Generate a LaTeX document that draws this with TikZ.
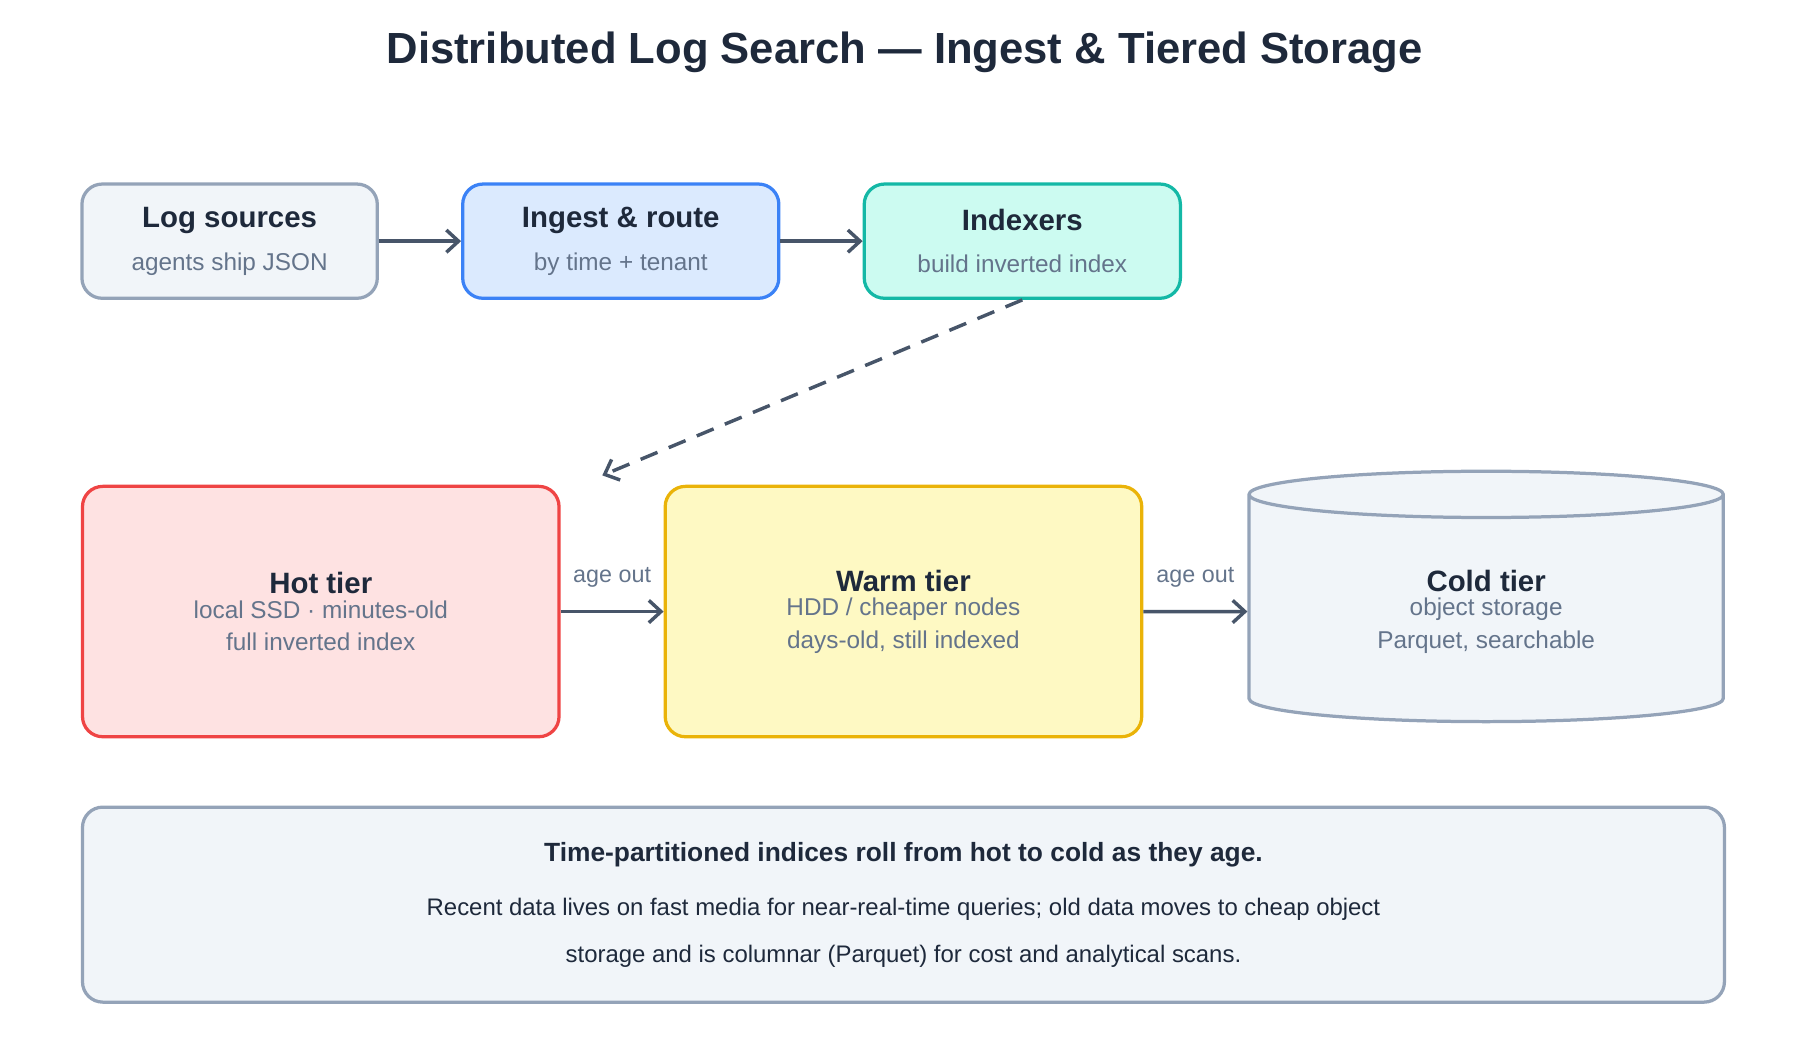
\documentclass[tikz,border=0pt]{standalone}
\usepackage{fontspec}
\setmainfont{Liberation Sans}
\usetikzlibrary{positioning, arrows.meta, shapes.geometric}
\definecolor{ink}{HTML}{1E293B}
\definecolor{subink}{HTML}{64748B}
\definecolor{wire}{HTML}{475569}
\definecolor{slatefill}{HTML}{F1F5F9}
\definecolor{slateline}{HTML}{94A3B8}
\definecolor{bluefill}{HTML}{DBEAFE}
\definecolor{blueline}{HTML}{3B82F6}
\definecolor{tealfill}{HTML}{CCFBF1}
\definecolor{tealline}{HTML}{14B8A6}
\definecolor{redfill}{HTML}{FEE2E2}
\definecolor{redline}{HTML}{EF4444}
\definecolor{yellowfill}{HTML}{FEF9C3}
\definecolor{yellowline}{HTML}{EAB308}
\tikzset{
  box/.style={draw, line width=1.6pt, rounded corners=10pt, align=center, text=ink},
  small/.style={box, minimum width=5.12cm, minimum height=1.98cm},
  tier/.style={box, minimum width=8.26cm, minimum height=4.34cm},
  flow/.style={draw=wire, line width=1.7pt, -{Straight Barb[length=6pt,width=11pt]}},
  tag/.style={text=subink, font=\fontsize{11.5}{14}\selectfont},
}
\newcommand{\heading}[1]{{\fontsize{14.5}{18}\selectfont\bfseries #1}}
\newcommand{\subline}[1]{{\color{subink}\fontsize{12}{15}\selectfont #1}}
\begin{document}
\begin{tikzpicture}
\useasboundingbox (0,0) rectangle (31.2,-18);
\node (title) at (15.68,-0.9) {\fontsize{21.5}{26}\selectfont\bfseries\color{ink}Distributed Log Search — Ingest \& Tiered Storage};

\node[small, fill=slatefill, draw=slateline] (src) at (3.98,-4.18)
  {\heading{Log sources}\\[9pt]\subline{agents ship JSON}};
\node[small, fill=bluefill, draw=blueline, minimum width=5.48cm] (ingest) at (10.76,-4.18)
  {\heading{Ingest \& route}\\[9pt]\subline{by time + tenant}};
\node[small, fill=tealfill, draw=tealline, minimum width=5.48cm] (idx) at (17.72,-4.18)
  {\heading{Indexers}\\[9pt]\subline{build inverted index}};

\node[tier, fill=redfill, draw=redline] (hot) at (5.56,-10.6)
  {\heading{Hot tier}\\\subline{local SSD · minutes-old}\\[4pt]\subline{full inverted index}};
\node[tier, fill=yellowfill, draw=yellowline] (warm) at (15.66,-10.6)
  {\heading{Warm tier}\\\subline{HDD / cheaper nodes}\\[4pt]\subline{days-old, still indexed}};
\node[cylinder, shape border rotate=90, draw=slateline, fill=slatefill, line width=1.6pt,
  minimum width=8.22cm, minimum height=4.34cm, aspect=0.2, align=center, text=ink] (cold) at (25.76,-10.6)
  {\heading{Cold tier}\\\subline{object storage}\\[4pt]\subline{Parquet, searchable}};

\node[box, fill=slatefill, draw=slateline, minimum width=28.46cm, minimum height=3.38cm,
  font=\fontsize{11.8}{15}\selectfont] (note) at (15.66,-15.68)
  {\textbf{\fontsize{13}{16}\selectfont Time-partitioned indices roll from hot to cold as they age.}\\[12pt]
   Recent data lives on fast media for near-real-time queries; old data moves to cheap object\\[8pt]
   storage and is columnar (Parquet) for cost and analytical scans.};

\draw[flow] (src) -- (ingest);
\draw[flow] (ingest) -- (idx);
\coordinate (drop) at (10.44,-8.24);
\draw[flow, dash pattern=on 9pt off 6pt] (idx.south) -- (drop);
\draw[flow] (hot) -- node[tag, above=8pt] (age1) {age out} (warm);
\draw[flow] (warm) -- node[tag, above=8pt] (age2) {age out} (cold);
\end{tikzpicture}
\end{document}
